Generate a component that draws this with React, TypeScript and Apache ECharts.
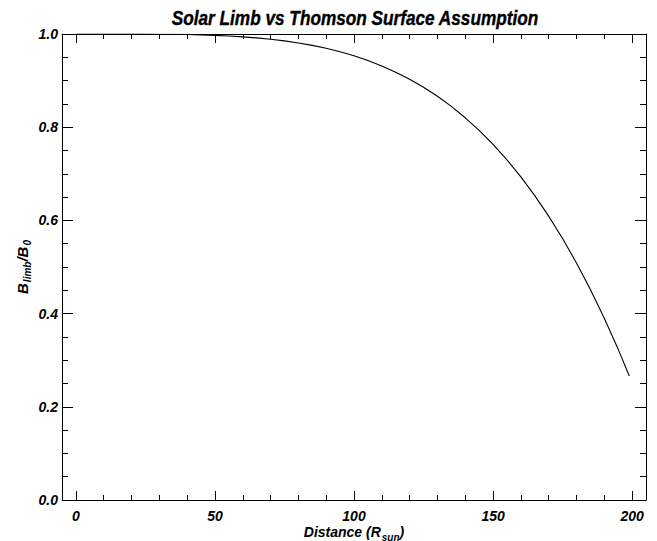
import React, { useEffect, useRef } from "react";
import * as echarts from "echarts";

// Distance (R_sun) and B_limb/B_0 values
const distance = [
  0, 5, 10, 15, 20, 25, 30, 35, 40, 45, 50, 55, 60, 65, 70, 75, 80, 85, 90, 95,
  100, 105, 110, 115, 120, 125, 130, 135, 140, 145, 150, 155, 160, 165, 170, 175,
  180, 185, 190, 195, 199,
];
const ratio = [
  1.0, 1.0, 1.0, 1.0, 0.9999, 0.9998, 0.9996, 0.9993, 0.9988, 0.9981, 0.9971,
  0.9957, 0.9939, 0.9916, 0.9888, 0.9852, 0.9808, 0.9756, 0.9693, 0.9619,
  0.9532, 0.9431, 0.9315, 0.9181, 0.903, 0.8857, 0.8663, 0.8446, 0.8202,
  0.7931, 0.7631, 0.7299, 0.6933, 0.6531, 0.6091, 0.5611, 0.5087, 0.4518,
  0.3901, 0.3233, 0.2661,
];
const xMajorTicks = [0, 50, 100, 150, 200];
const xMinorTicks = [
  10, 20, 30, 40, 60, 70, 80, 90, 110, 120, 130, 140, 160, 170, 180, 190,
];
const xRange = [-5, 205];
const yRange = [0, 1];
const titleText = "Solar Limb vs Thomson Surface Assumption";
const xNameText = "{a|Distance (R}{s|sun}{a|)}";
const yNameText = "{a|B}{s|limb}{a|/B}{s|0}";

const FONT = '"Liberation Sans", Arial, sans-serif';

export default function App() {
  const ref = useRef<HTMLDivElement>(null);
  useEffect(() => {
    document.body.style.margin = "0";
    const chart = echarts.init(ref.current!, null, { renderer: "svg" });
    const lineStyle = { color: "#000", width: 1 };
    const baseX = {
      type: "value",
      min: xRange[0],
      max: xRange[1],
      splitLine: { show: false },
    };
    const baseY = {
      type: "value",
      min: yRange[0],
      max: yRange[1],
      interval: 0.2,
      splitLine: { show: false },
    };
    const labelStyle = {
      color: "#000",
      fontFamily: FONT,
      fontSize: 14,
      fontWeight: "bold",
      fontStyle: "italic",
    };
    const richName = (main: number) => ({
      a: { fill: "#000", fontFamily: FONT, fontWeight: "bold", fontStyle: "italic", fontSize: main, lineHeight: 20, verticalAlign: "middle" },
      s: { fill: "#000", fontFamily: FONT, fontWeight: "bold", fontStyle: "italic", fontSize: 10, lineHeight: 20, verticalAlign: "bottom", padding: [0, 0, 0, 1] },
    });
    chart.setOption({
      animation: false,
      backgroundColor: "#fff",
      grid: { left: 62, right: 11, top: 34, bottom: 41, containLabel: false },
      graphic: [
        {
          type: "text",
          x: 355,
          y: 7,
          scaleX: 0.82,
          style: {
            text: titleText,
            fontFamily: FONT,
            fontSize: 21,
            fontWeight: "bold",
            fontStyle: "italic",
            fill: "#000",
            stroke: "#000",
            lineWidth: 0.4,
            align: "center",
            verticalAlign: "top",
          },
        },
        {
          type: "text",
          x: 354,
          y: 532,
          style: {
            text: xNameText,
            rich: richName(14),
            align: "center",
            verticalAlign: "middle",
          },
        },
        {
          type: "text",
          x: 22,
          y: 267,
          rotation: Math.PI / 2,
          style: {
            text: yNameText,
            rich: richName(15),
            align: "center",
            verticalAlign: "middle",
          },
        },
      ],
      xAxis: [
        {
          ...baseX,
          position: "bottom",
          axisLine: { show: true, onZero: false, lineStyle },
          axisTick: { show: true, inside: true, length: 9, customValues: xMajorTicks, lineStyle },
          axisLabel: { ...labelStyle, margin: 9, customValues: xMajorTicks },
        },
        {
          ...baseX,
          position: "bottom",
          axisLine: { show: false, onZero: false },
          axisTick: { show: true, inside: true, length: 5, customValues: xMinorTicks, lineStyle },
          axisLabel: { show: false },
        },
        {
          ...baseX,
          position: "top",
          axisLine: { show: true, onZero: false, lineStyle },
          axisTick: { show: true, inside: true, length: 9, customValues: xMajorTicks, lineStyle },
          axisLabel: { show: false },
        },
        {
          ...baseX,
          position: "top",
          axisLine: { show: false, onZero: false },
          axisTick: { show: true, inside: true, length: 5, customValues: xMinorTicks, lineStyle },
          axisLabel: { show: false },
        },
      ],
      yAxis: [
        {
          ...baseY,
          position: "left",
          axisLine: { show: true, onZero: false, lineStyle },
          axisTick: { show: true, inside: true, length: 11, lineStyle },
          minorTick: { show: true, splitNumber: 4, length: 6, lineStyle },
          axisLabel: {
            ...labelStyle,
            margin: 4,
            formatter: (v: number) => v.toFixed(1),
          },
        },
        {
          ...baseY,
          position: "right",
          axisLine: { show: true, onZero: false, lineStyle },
          axisTick: { show: true, inside: true, length: 11, lineStyle },
          minorTick: { show: true, splitNumber: 4, length: 6, lineStyle },
          axisLabel: { show: false },
        },
      ],
      series: [
        {
          type: "line",
          xAxisIndex: 0,
          yAxisIndex: 0,
          data: distance.map((d, i) => [d, ratio[i]]),
          showSymbol: false,
          smooth: false,
          lineStyle: { color: "#000", width: 1.1 },
          clip: true,
        },
      ],
    });
    return () => chart.dispose();
  }, []);
  return <div ref={ref} style={{ width: 657, height: 541 }} />;
}
